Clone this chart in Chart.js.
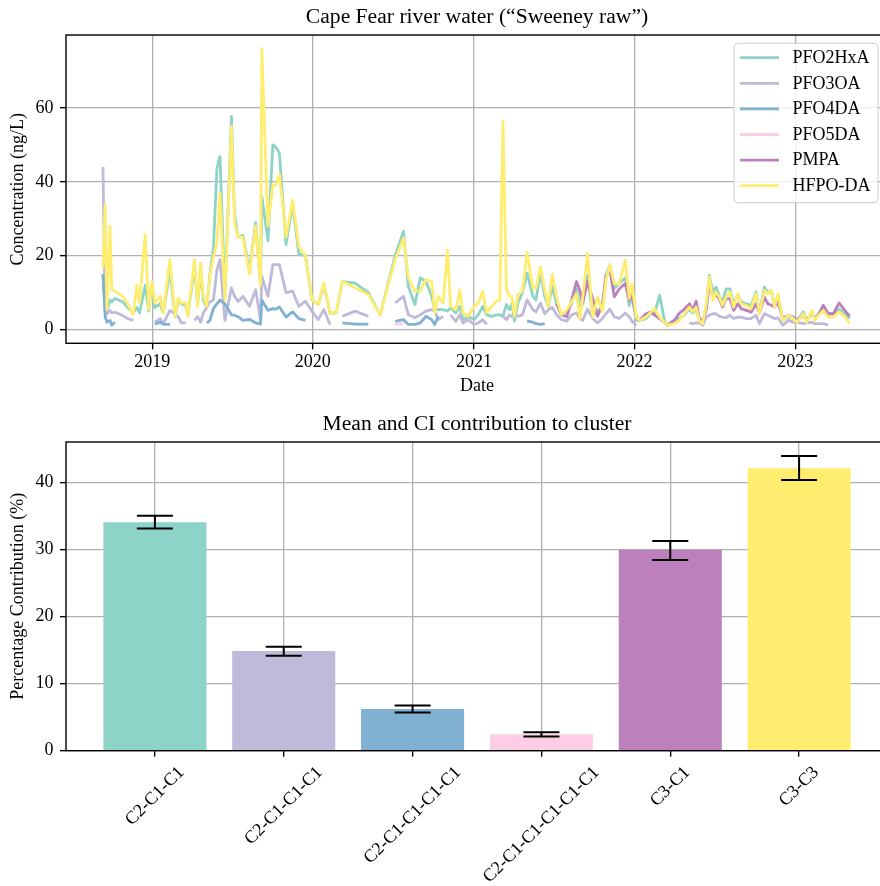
<!DOCTYPE html>
<html><head><meta charset="utf-8">
<script src="https://cdn.jsdelivr.net/npm/chart.js@4.4.1/dist/chart.umd.min.js"></script>
<style>
html,body{margin:0;padding:0;background:#fff;overflow:hidden;width:880px;height:886px;}
canvas{position:absolute;left:0;}
#c1{top:0;}
#c2{top:400px;}
</style></head><body>
<canvas id="c1" width="890" height="400"></canvas>
<canvas id="c2" width="890" height="486"></canvas>
<script>
const _ = null;
const seriesNames = ['PFO2HxA','PFO3OA','PFO4DA','PFO5DA','PMPA','HFPO-DA'];
const seriesColors = ['#8dd3c7','#bebada','#80b1d3','#fccde5','#bc80bd','#ffed6f'];

const dates = [
'2018-09-11','2018-09-16','2018-09-20','2018-09-27','2018-10-01','2018-10-08','2018-10-26','2018-11-06','2018-11-19','2018-11-27',
'2018-12-03','2018-12-16','2018-12-24','2018-12-31','2019-01-07','2019-01-19','2019-01-26','2019-02-10','2019-02-22','2019-03-01',
'2019-03-08','2019-03-18','2019-03-23','2019-04-07','2019-04-14','2019-04-21','2019-04-27','2019-05-05','2019-05-12','2019-05-20',
'2019-05-28','2019-06-04','2019-06-15','2019-06-30','2019-07-07','2019-07-15','2019-07-26','2019-08-10','2019-08-24','2019-09-04',
'2019-09-07','2019-09-21','2019-10-02','2019-10-08','2019-10-17','2019-11-01','2019-11-16','2019-11-30','2019-12-15','2019-12-30',
'2020-01-13','2020-01-26','2020-02-09','2020-02-23','2020-03-08','2020-04-06','2020-05-06','2020-06-02','2020-07-06','2020-07-25',
'2020-08-05','2020-08-20','2020-09-01','2020-09-14','2020-09-27','2020-10-04','2020-10-12','2020-10-23','2020-11-02','2020-11-09',
'2020-11-21','2020-11-30','2020-12-07','2020-12-19','2021-01-01','2021-01-11','2021-01-21','2021-01-30','2021-02-10','2021-02-21',
'2021-03-01','2021-03-08','2021-03-16','2021-03-23','2021-03-28','2021-04-03','2021-04-11','2021-04-21','2021-05-02','2021-05-15',
'2021-05-22','2021-06-01','2021-06-11','2021-06-19','2021-06-28','2021-07-08','2021-07-19','2021-07-31','2021-08-11','2021-08-22',
'2021-08-30','2021-09-05','2021-09-16','2021-09-28','2021-10-09','2021-10-20','2021-10-28','2021-11-06','2021-11-16','2021-11-27',
'2021-12-11','2021-12-20','2021-12-26','2022-01-05','2022-01-12','2022-01-27','2022-02-08','2022-02-15','2022-02-27','2022-03-10',
'2022-03-17','2022-04-02','2022-04-13','2022-04-24','2022-05-06','2022-05-13','2022-05-21','2022-05-28','2022-06-05','2022-06-13',
'2022-06-20','2022-06-28','2022-07-05','2022-07-13','2022-07-20','2022-07-28','2022-08-06','2022-08-14','2022-08-24','2022-08-31',
'2022-09-12','2022-09-23','2022-10-04','2022-10-12','2022-10-23','2022-10-31','2022-11-08','2022-11-15','2022-11-23','2022-12-04',
'2022-12-17','2022-12-28','2023-01-05','2023-01-20','2023-01-27','2023-02-08','2023-02-15','2023-02-23','2023-03-06','2023-03-17',
'2023-03-29','2023-04-11','2023-04-24','2023-05-05'
];

const pfo2hxa = [
15,7,5,8,7.5,8.4,7.5,6,4.5,6,
4.5,12,5,12,6,7,4.5,16,3.5,8,
7,6.5,4,17,7,16,8,6,15,22,
43.7,46.8,9,57.7,31,25,25.5,16,29,12,
36,24,50,49.5,47.7,23,34,20.5,20,8,
6.8,12,4.5,4.5,13,12.6,10,4,20,26.6,
11.7,6.8,14,13,9,5.4,5.4,5.4,5,5.9,
4.5,6.3,2.7,3.6,2.7,4,6.3,4,3.6,4,
4,3.6,6.8,5.4,7,2.3,7.2,9.9,15.3,9,
8,15.3,9,6.3,11.7,6.8,4,5,7,11,
6,7,14.7,3.8,5,6,14.8,17.5,11.2,12.5,
14,6.5,9,2.5,2.5,3,4.5,4,9.3,2.5,
1.2,2.7,3,4,5.5,4.5,5.5,2.5,1.8,6.3,
14.7,10.2,11.5,9,7.5,11,11,7,9.5,7.5,
7,6.5,10.2,4.5,11.5,10,10.5,6.5,9,2.7,
3.5,3,2.5,4.8,2.5,4.5,3,4.3,6,4.3,
4.3,5.5,4.5,3
];

const pfo3oa = [
44,5,4.3,5.2,4.5,4.7,3.8,3,2.5,_,
_,_,_,_,2,3,1.5,5.2,4.3,3.5,
1.8,1.8,_,2.5,3.5,2,4.5,6.1,7.5,8,
16.2,18.9,2.5,11.3,9,7.6,9,6.3,10.8,2.5,
14.4,9,17.6,17.6,17.6,10,10.4,6.3,7.7,5,
2.7,5.4,1.4,_,3.6,5,3.6,_,7.2,9,
4,3.2,4,5,5.4,5,2.7,3.6,_,4,
2.2,4,1.8,2.7,1.4,1.8,2.7,1.4,_,_,
_,3.6,2.7,4,3.5,4.3,3.6,4,8,5.4,
4.8,7.2,4.3,5.4,6,4,2.7,2.3,4,4.5,
3,2.5,5.5,3,1.8,3,4.3,5.5,3.5,3,
4.5,3.5,2.3,1.2,_,_,_,_,_,_,
_,_,_,_,1.8,1.6,1.8,1.8,1.2,3.4,
3.9,4.3,4.3,3.6,3.4,3.2,3.9,3,3.4,3.4,
3,3,3.9,1.6,4.3,3.9,3.4,3,3.2,1.2,
2.5,2,2,1.6,1.8,2,1.6,1.6,1.6,1.3,
_,_,_,_
];

const pfo4da = [
15,3.5,2,2.5,1.2,2,_,_,_,_,
_,_,_,_,1.5,2,1.5,1.4,_,_,
_,_,_,_,_,_,_,1.8,2.5,5.7,
7,8,7,4,3.9,3.5,2.5,2.8,1.8,1.5,
8,5.2,5.7,5.5,6.1,3.4,4.8,3,2.5,_,
_,_,_,_,1.8,1.5,1.5,_,2.2,2.7,
1.4,1.4,1.8,3.6,2.7,1.4,3.6,_,_,_,
_,_,_,_,_,_,_,_,_,_,
_,_,_,_,_,_,_,_,2.3,2,
1.6,1.4,1.6,_,_,_,_,_,_,_,
_,_,_,_,_,_,_,_,_,_,
_,_,_,_,_,_,_,_,_,_,
_,_,_,_,_,_,_,_,_,_,
_,_,_,_,_,_,_,_,_,_,
_,_,_,_,_,_,_,_,_,_,
_,_,_,_,_,_,_,_,_,_,
_,_,_,_
];

const pfo5da = [
_,_,_,_,_,_,_,_,_,_,
_,_,_,_,_,_,_,_,_,_,
_,_,_,_,_,_,_,_,_,_,
_,_,_,_,_,_,_,_,_,_,
_,_,_,_,_,_,_,_,_,_,
_,_,_,_,_,_,_,_,1.4,1.6,
_,_,_,_,_,_,_,_,_,_,
_,_,_,_,_,_,_,_,_,_,
_,_,_,_,_,_,_,_,_,_,
_,_,_,_,_,_,_,_,_,_,
_,_,_,_,_,_,_,_,_,_,
_,_,_,_,_,_,_,_,_,_,
_,_,_,_,_,_,_,_,_,_,
_,_,_,_,_,_,_,_,_,_,
_,_,_,_,_,_,_,_,_,_,
_,_,_,_,_,_,_,_,_,_,
_,_,_,_
];

const pmpa = [
_,_,_,_,_,_,_,_,_,_,
_,_,_,_,_,_,_,_,_,_,
_,_,_,_,_,_,_,_,_,_,
_,_,_,_,_,_,_,_,_,_,
_,_,_,_,_,_,_,_,_,_,
_,_,_,_,_,_,_,_,_,_,
_,_,_,_,_,_,_,_,_,_,
_,_,_,_,_,_,_,_,_,_,
_,_,_,_,_,_,_,_,_,_,
_,_,_,_,_,7,4,3.5,8,13,
10.5,7,13,8.4,3.6,6.8,14.4,16.2,8.9,11,
12.5,8,9.5,3.5,2.5,4.3,4.8,4,3,2,
1.2,2.5,4.5,5.5,7,5.2,7.7,3.2,2,5.5,
12.6,8.8,9.5,8.3,6.1,8.4,8.4,5.2,7,5.7,
5.2,4.7,7,4.5,8.8,7,6.6,6.1,7.5,3,
3.9,3.4,2.5,4,2.5,4.5,3,4,6.6,4.3,
4.3,7.2,5.2,3.6
];

const hfpoda = [
17,33.8,5.4,28,10.8,10.4,9,7,4,12,
7.2,25.7,5.4,13,7.2,9,4.5,19,3.6,8.6,
7.2,7.2,3.6,19,6.3,18,9,6.3,14.4,19.8,
23.4,37,8,55,29,25,25,15,28,12,
76,28,39,39,42,25,35,22.5,20,8,
6.8,12.6,4.5,4.5,13,11.3,9.5,4,19,24.8,
14,10.4,10.4,13.5,13,4.5,9,7.2,21.6,6.3,
5.4,10.8,4.5,3.6,6.3,7.2,10.4,4.5,6.3,7.7,
8,56.3,10.8,9,9,3.6,9.5,10.4,21,11.2,
11.2,17,10.8,6.3,15,8.6,4,5.4,7.5,9.7,
3,8.4,20.6,3.4,8.8,4.8,13.4,17.5,12.4,12.4,
18.8,8.4,12.4,3.4,2.5,3.4,4.8,5.7,3.4,2,
1.2,1.6,2.5,4.3,6.1,4.8,6.1,2.5,1.6,7,
14.2,7.9,10.2,8.8,6.6,8.8,10.2,6.1,9.7,7,
6.6,5.7,9.7,4.3,10.6,9.7,10.6,6.1,9.7,2.5,
3.9,3,2,4.3,2,5.2,2.5,3.9,5.2,3.4,
3.4,4.8,3.4,1.6
];

const yearTicks = [2019, 2020, 2021, 2022, 2023];
const concTicks = [0, 20, 40, 60];
const dateRange = ['2018-06-19', '2023-07-31'];

const clusters = ['C2-C1-C1','C2-C1-C1-C1','C2-C1-C1-C1-C1','C2-C1-C1-C1-C1-C1','C3-C1','C3-C3'];
const meanContribution = [34.05, 14.85, 6.2, 2.45, 29.95, 42.1];
const ciLower = [33.1, 14.15, 5.7, 2.1, 28.4, 40.35];
const ciUpper = [35.0, 15.5, 6.75, 2.75, 31.25, 43.9];
const pctTicks = [0, 10, 20, 30, 40];

Chart.defaults.font.family = '"Liberation Serif", "Times New Roman", serif';
Chart.defaults.font.size = 18;
Chart.defaults.color = '#000';

const gridStyle = {color:'#b0b0b0', lineWidth:1.3, tickLength:6, tickColor:'#000', tickWidth:1.4, offset:false, drawTicks:true};

const framePlugin = {
  id: 'frame',
  afterDraw(chart) {
    const {ctx, chartArea: a} = chart;
    ctx.save();
    ctx.strokeStyle = '#000';
    ctx.lineWidth = 1.4;
    ctx.strokeRect(a.left, a.top, a.right - a.left, a.bottom - a.top);
    ctx.restore();
  }
};

const legendPlugin = {
  id: 'boxLegend',
  afterDraw(chart) {
    const {ctx, chartArea: a} = chart;
    const ds = chart.data.datasets;
    const w = 144, h = 159.4, r = 4;
    const x0 = a.right - 10 - w, y0 = a.top + 8.3;
    ctx.save();
    ctx.beginPath();
    ctx.moveTo(x0 + r, y0);
    ctx.lineTo(x0 + w - r, y0); ctx.arcTo(x0 + w, y0, x0 + w, y0 + r, r);
    ctx.lineTo(x0 + w, y0 + h - r); ctx.arcTo(x0 + w, y0 + h, x0 + w - r, y0 + h, r);
    ctx.lineTo(x0 + r, y0 + h); ctx.arcTo(x0, y0 + h, x0, y0 + h - r, r);
    ctx.lineTo(x0, y0 + r); ctx.arcTo(x0, y0, x0 + r, y0, r);
    ctx.closePath();
    ctx.fillStyle = 'rgba(255,255,255,0.8)';
    ctx.fill();
    ctx.strokeStyle = '#cccccc';
    ctx.lineWidth = 1;
    ctx.stroke();
    ctx.font = '18px "Liberation Serif", "Times New Roman", serif';
    ctx.textBaseline = 'middle';
    ctx.textAlign = 'left';
    ds.forEach((d, i) => {
      const y = y0 + 14.4 + 25.6 * i;
      ctx.strokeStyle = d.borderColor;
      ctx.lineWidth = 2.8;
      ctx.beginPath();
      ctx.moveTo(x0 + 6, y);
      ctx.lineTo(x0 + 45, y);
      ctx.stroke();
      ctx.fillStyle = '#000';
      ctx.fillText(d.label, x0 + 58.5, y + 0.5);
    });
    ctx.restore();
  }
};

const errorBarPlugin = {
  id: 'errorBars',
  afterDraw(chart) {
    const {ctx} = chart;
    const xs = chart.scales.x, ys = chart.scales.y;
    ctx.save();
    ctx.strokeStyle = '#000';
    ctx.lineWidth = 2;
    ciLower.forEach((lo, i) => {
      const x = xs.getPixelForValue(i);
      const y1 = ys.getPixelForValue(lo), y2 = ys.getPixelForValue(ciUpper[i]);
      ctx.beginPath();
      ctx.moveTo(x, y1); ctx.lineTo(x, y2);
      ctx.moveTo(x - 18, y1); ctx.lineTo(x + 18, y1);
      ctx.moveTo(x - 18, y2); ctx.lineTo(x + 18, y2);
      ctx.stroke();
    });
    ctx.restore();
  }
};

const rotatedLabelPlugin = {
  id: 'rotatedLabels',
  afterDraw(chart) {
    const {ctx, chartArea: a} = chart;
    const xs = chart.scales.x;
    ctx.save();
    ctx.font = '18px "Liberation Serif", "Times New Roman", serif';
    ctx.fillStyle = '#000';
    ctx.textAlign = 'center';
    ctx.textBaseline = 'middle';
    clusters.forEach((lab, i) => {
      const x = xs.getPixelForValue(i);
      const w = ctx.measureText(lab).width;
      const d = (w + 18) * Math.SQRT1_2;
      const cy = a.bottom + 12.6 + d / 2;
      ctx.save();
      ctx.translate(x, cy);
      ctx.rotate(-Math.PI / 4);
      ctx.fillText(lab, 0, 0);
      ctx.restore();
    });
    ctx.restore();
  }
};

const seriesValues = [pfo2hxa, pfo3oa, pfo4da, pfo5da, pmpa, hfpoda];
const lineDatasets = seriesValues.map((vals, k) => ({
  label: seriesNames[k],
  data: dates.map((d, i) => ({x: Date.parse(d), y: vals[i]})),
  borderColor: seriesColors[k],
  backgroundColor: seriesColors[k],
  borderWidth: 2.8,
  pointRadius: 0,
  pointHoverRadius: 0,
  tension: 0,
  spanGaps: false,
  borderJoinStyle: 'round',
  order: seriesValues.length - 1 - k
}));

new Chart(document.getElementById('c1'), {
  type: 'line',
  data: {datasets: lineDatasets},
  options: {
    responsive: false, animation: false, devicePixelRatio: 1, events: [],
    layout: {padding: {left: 0, right: 2, top: 0, bottom: 0}},
    plugins: {
      legend: {display: false}, tooltip: {enabled: false},
      title: {display: true, text: 'Cape Fear river water (\u201cSweeney raw\u201d)', fullSize: false,
              font: {size: 21.6, weight: 'normal'}, color: '#000', padding: {top: 4, bottom: 5.1}}
    },
    scales: {
      x: {
        type: 'linear', min: Date.parse(dateRange[0]), max: Date.parse(dateRange[1]), offset: false,
        afterBuildTicks: s => { s.ticks = yearTicks.map(y => ({value: Date.UTC(y, 0, 1)})); },
        afterFit: s => { s.height = 56.7; },
        ticks: {autoSkip: false, maxRotation: 0, minRotation: 0, padding: 2.4,
                callback: v => String(new Date(v).getUTCFullYear())},
        grid: gridStyle,
        border: {display: false},
        title: {display: true, text: 'Date', padding: {top: 0, bottom: 2.5}}
      },
      y: {
        type: 'linear', min: -3.7, max: 79.7,
        afterBuildTicks: s => { s.ticks = concTicks.map(v => ({value: v})); },
        afterFit: s => { s.width = 66; },
        ticks: {padding: 6.5, callback: v => String(v)},
        grid: gridStyle,
        border: {display: false},
        title: {display: true, text: 'Concentration (ng/L)', padding: {top: 7.5, bottom: 0}}
      }
    }
  },
  plugins: [framePlugin, legendPlugin]
});

new Chart(document.getElementById('c2'), {
  type: 'bar',
  data: {
    datasets: [{
      label: 'Mean contribution',
      data: meanContribution.map((v, i) => ({x: i, y: v})),
      backgroundColor: seriesColors,
      borderWidth: 0,
      barPercentage: 0.8,
      categoryPercentage: 1.0
    }]
  },
  options: {
    responsive: false, animation: false, devicePixelRatio: 1, events: [],
    layout: {padding: {left: 0, right: 2, top: 0, bottom: 0}},
    plugins: {
      legend: {display: false}, tooltip: {enabled: false},
      title: {display: true, text: 'Mean and CI contribution to cluster', fullSize: false,
              font: {size: 21.6, weight: 'normal'}, color: '#000', padding: {top: 11.04, bottom: 5.04}}
    },
    scales: {
      x: {
        type: 'linear', min: -0.69, max: 5.69, offset: false, z: 1,
        afterBuildTicks: s => { s.ticks = clusters.map((c, i) => ({value: i})); },
        afterFit: s => { s.height = 135.3; },
        ticks: {autoSkip: false, maxRotation: 0, minRotation: 0, callback: () => ''},
        grid: gridStyle,
        border: {display: false}
      },
      y: {
        type: 'linear', min: 0, max: 46, z: 1,
        afterBuildTicks: s => { s.ticks = pctTicks.map(v => ({value: v})); },
        afterFit: s => { s.width = 66; },
        ticks: {padding: 6.5, callback: v => String(v)},
        grid: gridStyle,
        border: {display: false},
        title: {display: true, text: 'Percentage Contribution (%)', padding: {top: 7.5, bottom: 0}}
      }
    }
  },
  plugins: [framePlugin, errorBarPlugin, rotatedLabelPlugin]
});
</script>
</body></html>
